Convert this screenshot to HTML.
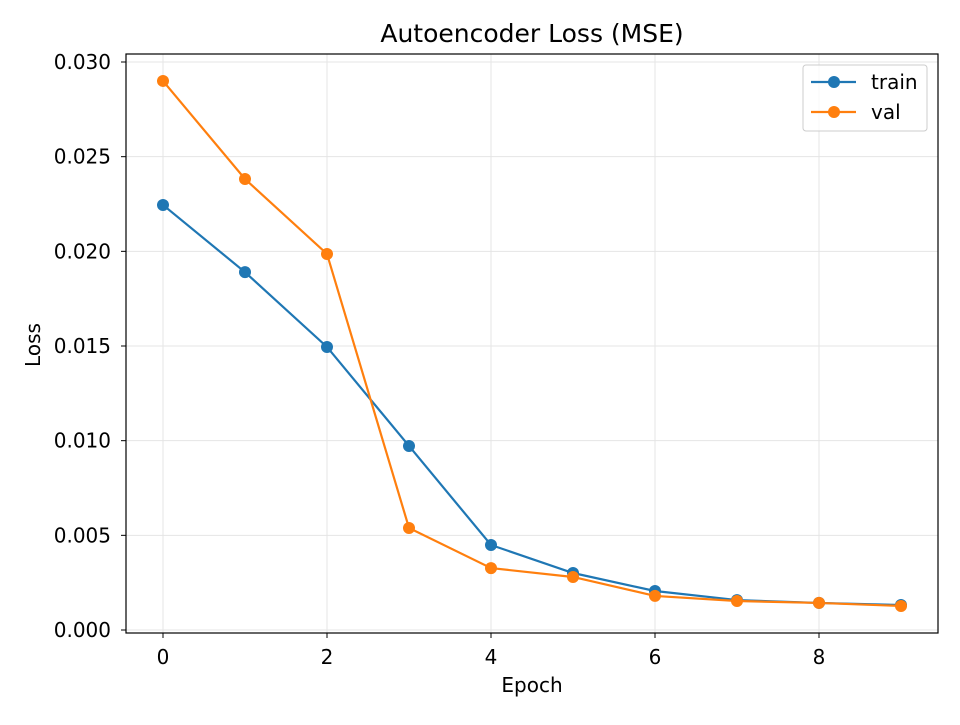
<!DOCTYPE html>
<html><head><meta charset="utf-8"><style>
html,body{margin:0;padding:0;background:#fff;}
svg text{font-family:"DejaVu Sans","Liberation Sans",sans-serif;fill:#000;}
</style></head><body>
<svg id="chart" width="960" height="720" xmlns="http://www.w3.org/2000/svg">
<rect width="960" height="720" fill="#fff"/>
<g id="grid"></g>
<g id="series"></g>
<rect x="126" y="54" width="812" height="579" fill="none" stroke="#000" stroke-width="1.2"/>
<g id="ticks"></g>
<text x="532" y="42" font-size="25" text-anchor="middle">Autoencoder Loss (MSE)</text>
<text x="532" y="692" font-size="20" text-anchor="middle">Epoch</text>
<text x="40" y="345" font-size="20" text-anchor="middle" transform="rotate(-90 40 345)">Loss</text>
<g>
<rect x="803" y="65" width="124" height="66" rx="3" fill="#fff" fill-opacity="0.8" stroke="#ccc"/>
<g>
<line x1="811" y1="82" x2="856" y2="82" stroke="#1f77b4" stroke-width="2.2"/><circle cx="834" cy="82" r="6" fill="#1f77b4"/>
<text x="871" y="89" font-size="20">train</text></g>
<g>
<line x1="811" y1="112" x2="856" y2="112" stroke="#ff7f0e" stroke-width="2.2"/><circle cx="834" cy="112" r="6" fill="#ff7f0e"/>
<text x="871" y="119" font-size="20">val</text></g>
</g>
</svg>
<script>
const epochs=[0,1,2,3,4,5,6,7,8,9];
const trainLoss=[0.02245,0.0189,0.01495,0.00972,0.00449,0.00301,0.00206,0.00158,0.00143,0.00132];
const valLoss=[0.0290,0.02382,0.01986,0.00539,0.00327,0.0028,0.0018,0.00153,0.00143,0.00127];
const xTicks=[0,2,4,6,8];
const yTicks=[0,0.005,0.01,0.015,0.02,0.025,0.03];
const NS="http://www.w3.org/2000/svg";
const xs=v=>163+v*82;
const ys=v=>630-v*18933;
function mk(tag,attrs,parent){const e=document.createElementNS(NS,tag);for(const k in attrs)e.setAttribute(k,attrs[k]);parent.appendChild(e);return e;}
const grid=document.getElementById('grid'),ticks=document.getElementById('ticks'),series=document.getElementById('series');
xTicks.forEach(t=>{
 const g=mk('line',{x1:xs(t),x2:xs(t),y1:54,y2:633,stroke:'#e5e5e5','stroke-width':1},grid);
 
 
 const tk=mk('line',{x1:xs(t),x2:xs(t),y1:633,y2:638,stroke:'#000','stroke-width':1},ticks);
 
 
 const tx=mk('text',{x:xs(t),y:664,'font-size':20,'text-anchor':'middle'},ticks);
 tx.textContent=t;
 
 
});
yTicks.forEach(t=>{
 const g=mk('line',{x1:126,x2:938,y1:ys(t),y2:ys(t),stroke:'#e5e5e5','stroke-width':1},grid);
 
 
 const tk=mk('line',{x1:121,x2:126,y1:ys(t),y2:ys(t),stroke:'#000','stroke-width':1},ticks);
 
 
 const tx=mk('text',{x:111,y:ys(t)+7,'font-size':20,'text-anchor':'end'},ticks);
 tx.textContent=t.toFixed(3);
 
 
});
function draw(vals,color,name){
 const pl=mk('polyline',{points:epochs.map((e,i)=>xs(e)+','+ys(vals[i])).join(' '),fill:'none',stroke:color,'stroke-width':2.2},series);
 
 
 epochs.forEach((e,i)=>{
  const c=mk('circle',{cx:xs(e),cy:ys(vals[i]),r:6,fill:color},series);
  
  
 });
}
draw(trainLoss,'#1f77b4','train');
draw(valLoss,'#ff7f0e','val');
</script>
</body></html>
